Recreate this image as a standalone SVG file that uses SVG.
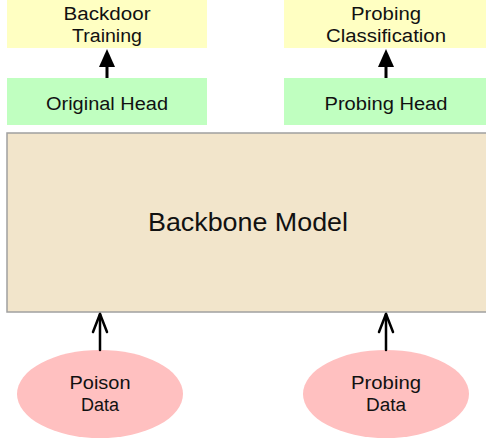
<svg xmlns="http://www.w3.org/2000/svg" width="486" height="438" viewBox="0 0 486 438">
<style>
text{font-family:"Liberation Sans",Arial,sans-serif;fill:#111;text-anchor:middle}
.t18{font-size:18px}
.out{fill:#FFFFC2}
.head{fill:#C0FFC0}
.data{fill:#FFC0C0}
.line{stroke:#000;stroke-width:3;fill:none}
.open{stroke:#000;stroke-width:2.5;fill:none;stroke-linecap:round;stroke-linejoin:round}
</style>
<rect width="486" height="438" fill="#fff"/>
<g id="backbone">
<rect x="7" y="133" width="490" height="179" fill="#F2E5CB" stroke="#A0A0A0" stroke-width="1.5"/>
<text x="248" y="231" font-size="25" textLength="200" lengthAdjust="spacingAndGlyphs">Backbone Model</text>
</g>
<g id="backdoor-training">
<rect class="out" x="7" y="0" width="200" height="48"/>
<text class="t18" x="107" y="20" textLength="87" lengthAdjust="spacingAndGlyphs">Backdoor</text>
<text class="t18" x="107" y="42" textLength="70" lengthAdjust="spacingAndGlyphs">Training</text>
</g>
<g id="original-head">
<rect class="head" x="7" y="78" width="200" height="47"/>
<text class="t18" x="107" y="110" textLength="122" lengthAdjust="spacingAndGlyphs">Original Head</text>
</g>
<g id="probing-classification">
<rect class="out" x="284" y="0" width="202" height="48"/>
<text class="t18" x="386" y="20" textLength="70" lengthAdjust="spacingAndGlyphs">Probing</text>
<text class="t18" x="386" y="42" textLength="120" lengthAdjust="spacingAndGlyphs">Classification</text>
</g>
<g id="probing-head">
<rect class="head" x="284" y="78" width="202" height="47"/>
<text class="t18" x="386" y="110" textLength="123" lengthAdjust="spacingAndGlyphs">Probing Head</text>
</g>
<g id="poison-data">
<ellipse class="data" cx="100" cy="394" rx="83" ry="44"/>
<text class="t18" x="100" y="389" textLength="61" lengthAdjust="spacingAndGlyphs">Poison</text>
<text class="t18" x="100" y="411" textLength="38" lengthAdjust="spacingAndGlyphs">Data</text>
</g>
<g id="probing-data">
<ellipse class="data" cx="386" cy="394" rx="83" ry="44"/>
<text class="t18" x="386" y="389" textLength="70" lengthAdjust="spacingAndGlyphs">Probing</text>
<text class="t18" x="386" y="411" textLength="40" lengthAdjust="spacingAndGlyphs">Data</text>
</g>
<g id="connectors">
<line class="line" x1="107" y1="78" x2="107" y2="64"/>
<polygon points="107,49 115,67 99,67" fill="#000"/>
<line class="line" x1="386" y1="78" x2="386" y2="64"/>
<polygon points="386,49 394,67 378,67" fill="#000"/>
<line class="open" x1="100" y1="350" x2="100" y2="314"/>
<polyline class="open" points="93,332 100,314 107,332"/>
<line class="open" x1="386" y1="350" x2="386" y2="314"/>
<polyline class="open" points="379,332 386,314 393,332"/>
</g>
</svg>
